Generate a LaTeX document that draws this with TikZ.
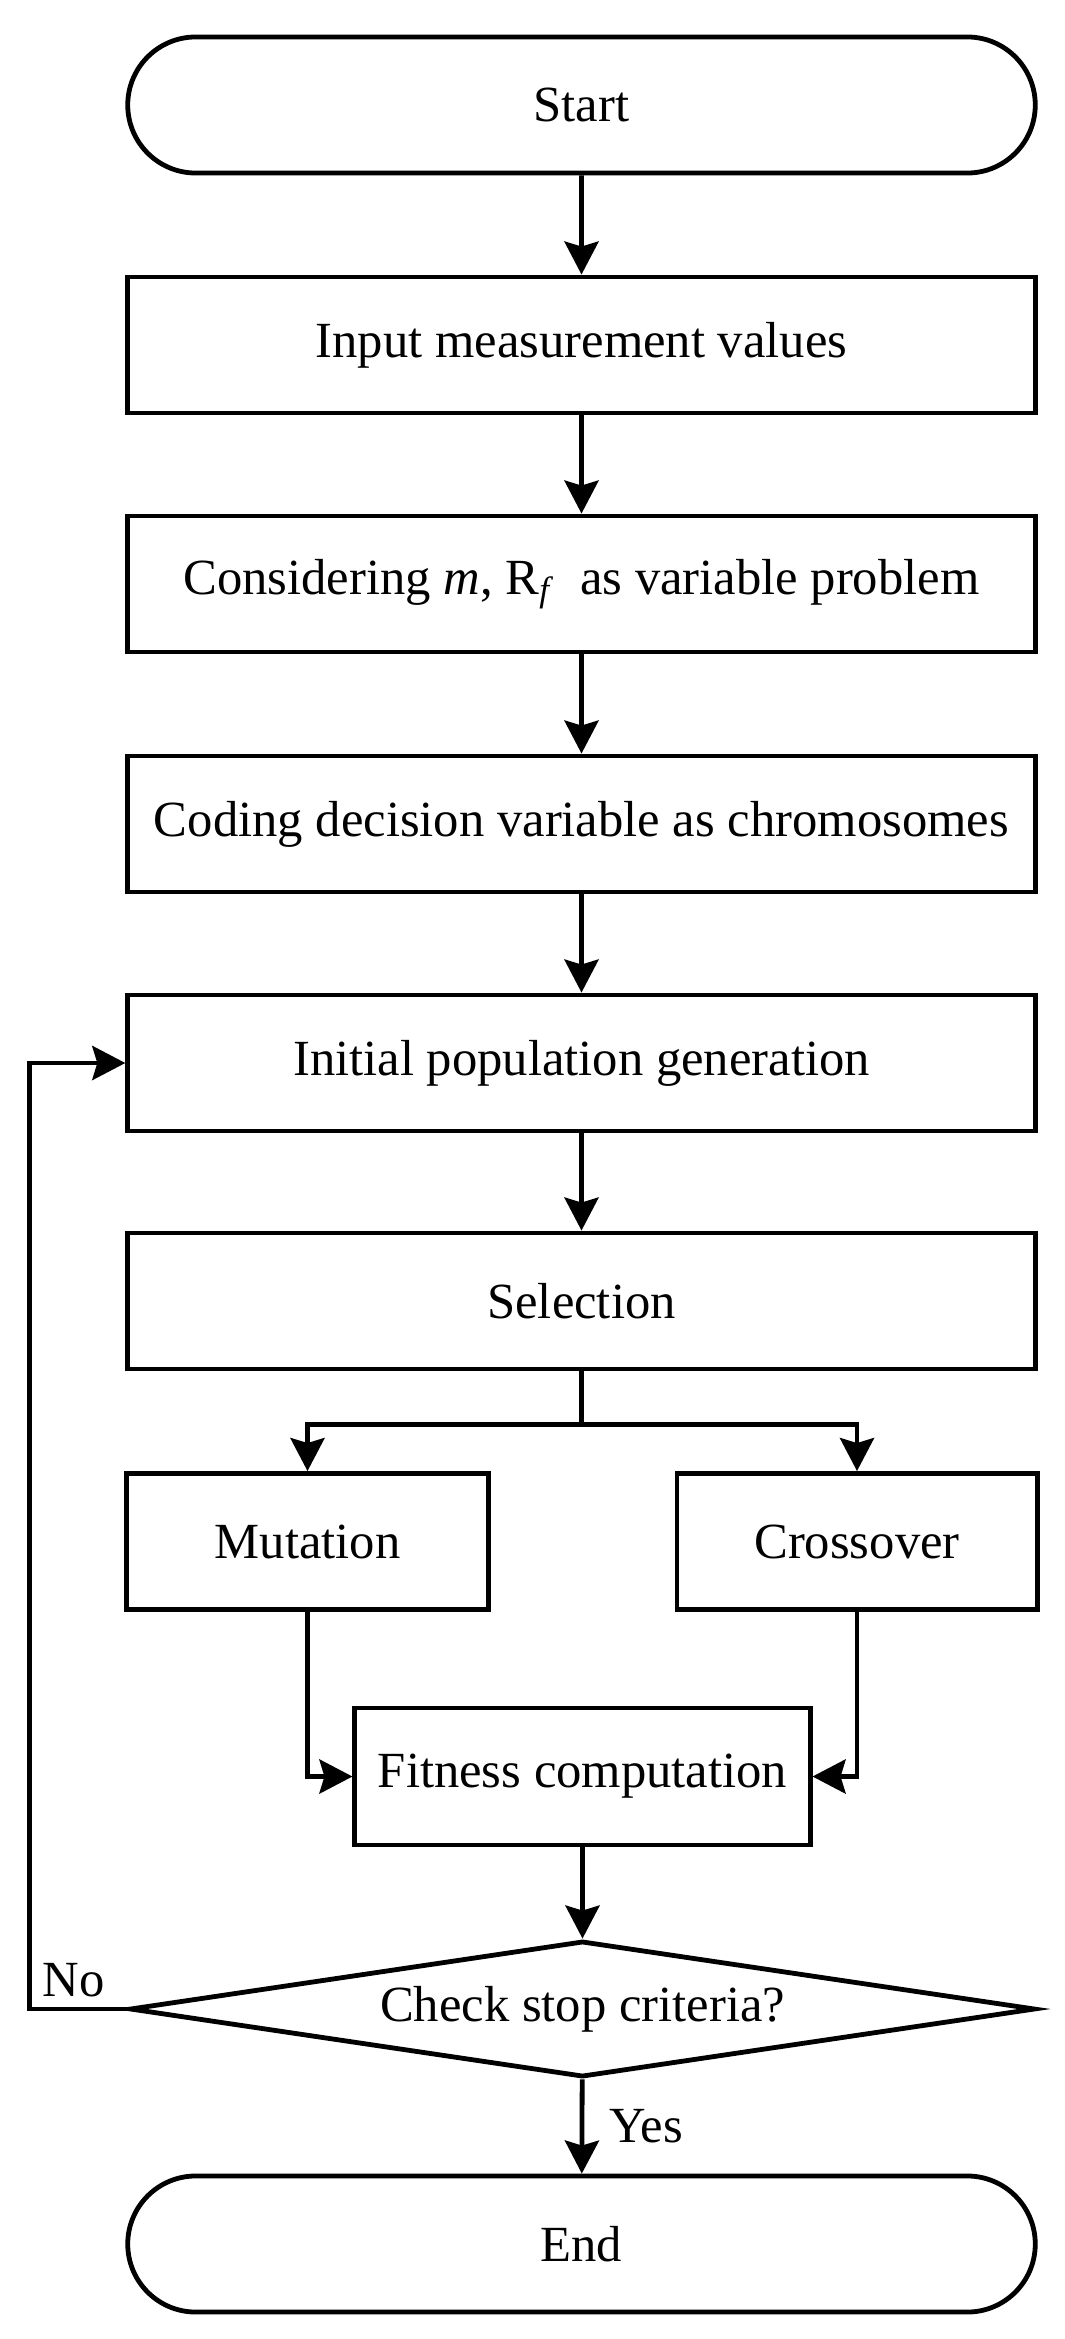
\documentclass[tikz,border=0pt]{standalone}
\usepackage{fontspec}
\setmainfont{Liberation Serif}
\usetikzlibrary{shapes.geometric}
\usepgflibrary{shapes.misc}
\usetikzlibrary{calc}
\usetikzlibrary{arrows.meta}
\usetikzlibrary{positioning}
\tikzset{process/.style={draw=#1,line width=0.048cm,rectangle,minimum width=9.07cm,minimum height=1.36cm,inner sep=0},process/.default=black}
\tikzset{terminal/.style={process=#1,rounded rectangle},terminal/.default=black}
\tikzset{decision/.style={draw=#1,line width=0.048cm,diamond,aspect=6.5,minimum width=9.05cm,minimum height=1.36cm,inner sep=0},decision/.default=black}
\tikzset{flow/.style={color=#1,line width=0.048cm,-{Stealth[length=0.33cm,width=0.34cm,inset=0.05cm]}},flow/.default=black}
\tikzset{link/.style={color=#1,line width=0.048cm},link/.default=black}

\begin{document}
\begin{tikzpicture}[x=0.01cm,y=-0.01cm,font=\fontsize{14.4}{17}\selectfont]
	\useasboundingbox (0,0) rectangle (1065,2339);

	% As etapas
	\node[terminal] (start) at (581.5,105) {Start};
	\node[process] (input) at (581.5,345) {Input measurement values};
	\node[process] (consider) at (581.5,584) {Considering \textit{m}, R\textsubscript{\textit{f}}\ \ as variable problem};
	\node[process] (coding) at (581.5,824) {Coding decision variable as chromosomes};
	\node[process] (initial) at (581.5,1063) {Initial population generation};
	\node[process] (select) at (581.5,1301) {Selection};
	\node[process,minimum width=3.61cm] (mut) at (307.5,1541.5) {Mutation};
	\node[process,minimum width=3.6cm] (cross) at (857,1541.5) {Crossover};
	\node[process,minimum width=4.55cm,minimum height=1.37cm] (fit) at (582.5,1776.5) {Fitness computation};
	\node[decision] (check) at (582.5,2009) {Check stop criteria?};
	\node[terminal] (final) at (581.5,2244) {End};

	% As ligações
	\draw[flow] (start) -- (input);
	\draw[flow] (input) -- (consider);
	\draw[flow] (consider) -- (coding);
	\draw[flow] (coding) -- (initial);
	\draw[flow] (initial) -- (select);

	\coordinate (split) at ($(select.south)+(0,53)$);
	\draw[link] (select) -- (split);
	\draw[flow] (split) -| (mut);
	\draw[flow] (split) -| (cross);
	\draw[flow] (mut) |- (fit);
	\draw[flow] (cross) |- (fit);
	\draw[flow] (fit) -- (check);
	\draw[flow] (check) -- node[right=0.25cm,inner sep=0] (yes) {Yes} (final);

	% O laço de volta
	\coordinate (loop) at ($(initial.west)+(-96,0)$);
	\draw[flow] (check.west) -| (loop) -- (initial);
	\node[above left=0.11cm and 0.22cm of check.west,inner sep=0] (no) {No};

\end{tikzpicture}
\end{document}
